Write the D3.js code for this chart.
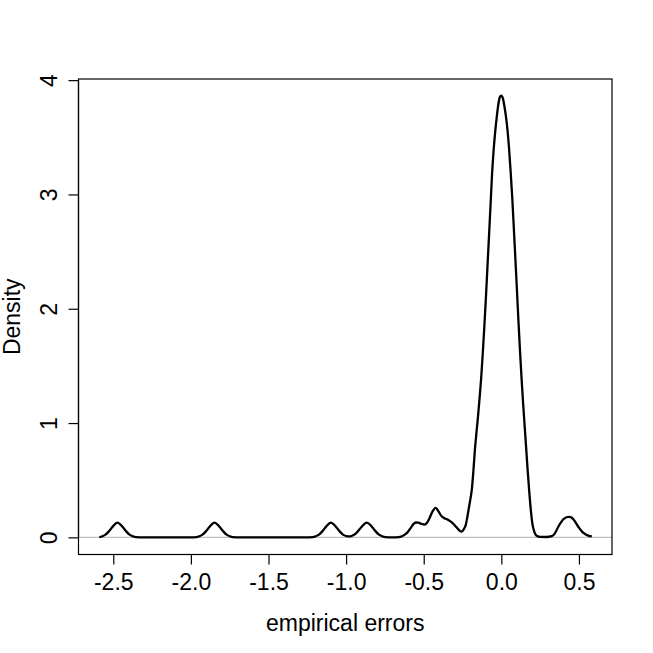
<!DOCTYPE html>
<html>
<head>
<meta charset="utf-8">
<script src="https://cdn.jsdelivr.net/npm/d3@7"></script>
<style>
  html, body { margin: 0; padding: 0; background: #ffffff; }
  svg { display: block; }
  text { font-family: "Liberation Sans", Arial, sans-serif; fill: #000; }
</style>
</head>
<body>
<svg id="chart" width="653" height="653"></svg>
<script>
// Density estimate of empirical errors
const densX = [
  -2.590, -2.570, -2.550, -2.530, -2.510, -2.490, -2.474, -2.455, -2.435, -2.415, -2.395, -2.375, -2.355, -2.300,
  -2.000, -1.965, -1.945, -1.925, -1.905, -1.885, -1.865, -1.849, -1.830, -1.810, -1.790, -1.770, -1.750, -1.730, -1.680,
  -1.260, -1.215, -1.195, -1.175, -1.155, -1.135, -1.115, -1.099, -1.080, -1.060, -1.040, -1.020, -1.000, -0.983,
  -0.965, -0.945, -0.925, -0.905, -0.885, -0.867, -0.848, -0.828, -0.808, -0.788, -0.768, -0.748, -0.700,
  -0.660, -0.640, -0.620, -0.600, -0.580, -0.565, -0.551, -0.535, -0.515, -0.495, -0.480, -0.462, -0.445, -0.423,
  -0.405, -0.388, -0.370, -0.350, -0.330, -0.310, -0.290, -0.270, -0.255, -0.240, -0.230, -0.220, -0.210, -0.200,
  -0.190, -0.180, -0.170, -0.160, -0.150, -0.140, -0.130, -0.120, -0.110, -0.100, -0.090, -0.080, -0.070, -0.060,
  -0.050, -0.040, -0.030, -0.020, -0.010, 0.000, 0.010, 0.020, 0.030, 0.040, 0.050, 0.060, 0.070, 0.080,
  0.090, 0.100, 0.110, 0.120, 0.130, 0.140, 0.150, 0.160, 0.170, 0.180, 0.190, 0.200, 0.210, 0.220, 0.235,
  0.250, 0.290, 0.325, 0.345, 0.367, 0.400, 0.420, 0.436, 0.452, 0.464, 0.496, 0.520, 0.539, 0.560, 0.583
];
const densY = [
  0.002, 0.010, 0.024, 0.050, 0.083, 0.114, 0.128, 0.114, 0.083, 0.050, 0.024, 0.010, 0.002, 0.000,
  0.000, 0.002, 0.010, 0.024, 0.050, 0.083, 0.114, 0.128, 0.114, 0.083, 0.050, 0.024, 0.010, 0.002, 0.000,
  0.000, 0.002, 0.010, 0.024, 0.050, 0.083, 0.114, 0.128, 0.114, 0.083, 0.050, 0.024, 0.012, 0.008,
  0.012, 0.026, 0.052, 0.084, 0.114, 0.128, 0.114, 0.083, 0.050, 0.024, 0.010, 0.002, 0.000,
  0.002, 0.010, 0.026, 0.052, 0.090, 0.118, 0.130, 0.128, 0.118, 0.112, 0.125, 0.170, 0.222, 0.258,
  0.228, 0.190, 0.170, 0.158, 0.142, 0.120, 0.090, 0.060, 0.050, 0.075, 0.105, 0.170, 0.250, 0.330,
  0.420, 0.580, 0.770, 0.920, 1.060, 1.220, 1.390, 1.600, 1.830, 2.080, 2.350, 2.620, 2.890, 3.170,
  3.380, 3.540, 3.670, 3.780, 3.850, 3.865, 3.840, 3.770, 3.680, 3.560, 3.400, 3.200, 2.980, 2.720,
  2.450, 2.180, 1.900, 1.640, 1.400, 1.180, 0.980, 0.780, 0.580, 0.400, 0.240, 0.120, 0.060, 0.025, 0.008,
  0.004, 0.003, 0.010, 0.035, 0.093, 0.158, 0.176, 0.180, 0.174, 0.158, 0.093, 0.050, 0.030, 0.015, 0.008
];
const xTicks = [-2.5, -2.0, -1.5, -1.0, -0.5, 0.0, 0.5];
const xTickLabels = ["-2.5", "-2.0", "-1.5", "-1.0", "-0.5", "0.0", "0.5"];
const yTicks = [0, 1, 2, 3, 4];
const yTickLabels = ["0", "1", "2", "3", "4"];
const xTitle = "empirical errors";
const yTitle = "Density";

const svg = d3.select("#chart");
const plot = { left: 78.5, right: 612, top: 79, bottom: 554.5 };
const x = d3.scaleLinear().domain([-2.724, 0.713]).range([plot.left, plot.right]);
const y = d3.scaleLinear().domain([-0.15, 4.01]).range([plot.bottom, plot.top]);
const fontSize = 23;

// zero reference line
svg.append("line")
  .attr("x1", plot.left).attr("x2", plot.right)
  .attr("y1", y(0)).attr("y2", y(0))
  .attr("stroke", "#bebebe").attr("stroke-width", 1.3);

// density curve
const pts = densX.map((d, i) => [d, densY[i]]);
svg.append("path")
  .datum(pts)
  .attr("fill", "none")
  .attr("stroke", "#000")
  .attr("stroke-width", 2.3)
  .attr("stroke-linejoin", "round")
  .attr("d", d3.line().x(d => x(d[0])).y(d => y(d[1])).curve(d3.curveMonotoneX));

// box
svg.append("rect")
  .attr("x", plot.left).attr("y", plot.top)
  .attr("width", plot.right - plot.left).attr("height", plot.bottom - plot.top)
  .attr("fill", "none").attr("stroke", "#000").attr("stroke-width", 1.2);

// x axis
const xAxis = d3.axisBottom(x).tickValues(xTicks).tickSize(10)
  .tickFormat((d, i) => xTickLabels[i]);
const gx = svg.append("g").attr("transform", `translate(0,${plot.bottom})`).call(xAxis);
gx.select(".domain").attr("d", `M${x(xTicks[0])},0H${x(xTicks[xTicks.length-1])}`).attr("stroke-width", 1.2);
gx.selectAll(".tick line").attr("stroke-width", 1.2);
gx.selectAll(".tick text").attr("font-size", fontSize).attr("font-family", "Liberation Sans, Arial, sans-serif")
  .attr("y", 35).attr("dy", null).attr("fill", "#000");

// y axis
const yAxis = d3.axisLeft(y).tickValues(yTicks).tickSize(10)
  .tickFormat((d, i) => yTickLabels[i]);
const gy = svg.append("g").attr("transform", `translate(${plot.left},0)`).call(yAxis);
gy.select(".domain").attr("d", `M0,${y(yTicks[0])}V${y(yTicks[yTicks.length-1])}`).attr("stroke-width", 1.2);
gy.selectAll(".tick line").attr("stroke-width", 1.2);
gy.selectAll(".tick text")
  .attr("font-size", fontSize).attr("font-family", "Liberation Sans, Arial, sans-serif")
  .attr("x", null).attr("dy", null).attr("fill", "#000")
  .attr("text-anchor", "middle")
  .attr("transform", "translate(-22,0) rotate(-90)");

// titles
svg.append("text")
  .attr("x", (plot.left + plot.right) / 2).attr("y", 631)
  .attr("text-anchor", "middle").attr("font-size", fontSize)
  .text(xTitle);
svg.append("text")
  .attr("transform", `translate(20,${(plot.top + plot.bottom) / 2}) rotate(-90)`)
  .attr("text-anchor", "middle").attr("font-size", fontSize)
  .text(yTitle);
</script>
</body>
</html>
